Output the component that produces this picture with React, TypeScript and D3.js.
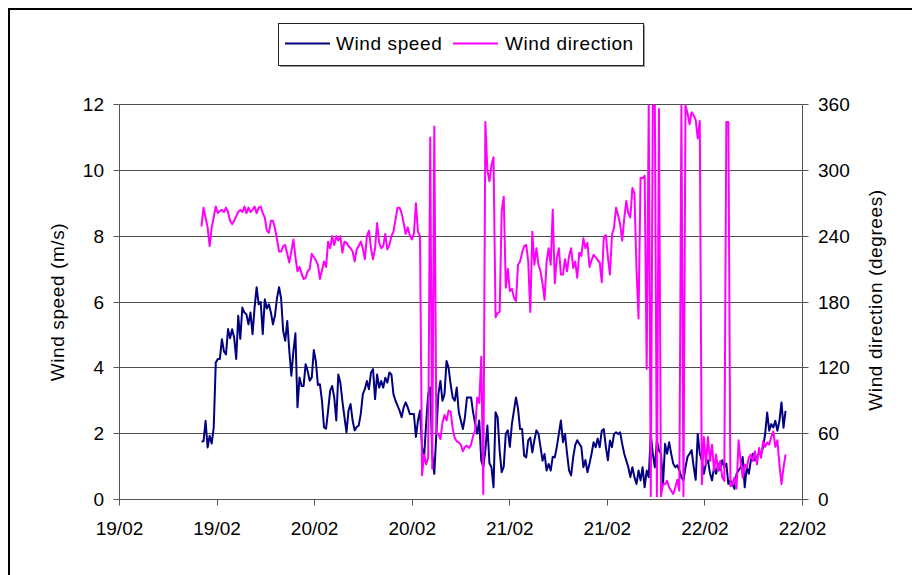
import React from "react";
import * as d3 from "d3";

const WIDTH = 912;
const HEIGHT = 575;

const seriesNames = ["Wind speed", "Wind direction"];
const seriesColors = ["#000080", "#ff00ff"];

const speedTicks = [0, 2, 4, 6, 8, 10, 12];
const directionTicks = [0, 60, 120, 180, 240, 300, 360];

const axisStart = new Date(2009, 1, 19, 0, 0);
const axisEnd = new Date(2009, 1, 22, 12, 0);

// Logger samples (about every 15 minutes)
const firstSample = new Date(2009, 1, 19, 10, 5);
const lastSample = new Date(2009, 1, 22, 9, 55);

// Wind speed, m/s
const windSpeed = [
  1.76, 1.77, 2.39, 1.58, 1.94, 1.7, 2.2, 4.16, 4.27, 4.27,
  4.87, 4.5, 4.41, 5.18, 4.9, 5.17, 4.92, 4.27, 5.58, 4.88,
  5.83, 5.68, 5.63, 5.32, 5.68, 5.02, 5.83, 6.45, 5.93, 6.0,
  5.03, 6.08, 5.8, 5.93, 5.68, 5.32, 5.6, 6.13, 6.45, 6.1,
  5.12, 4.82, 5.42, 4.52, 3.76, 4.5, 5.05, 2.8, 3.71, 3.45,
  3.45, 4.11, 3.9, 3.61, 3.71, 4.54, 4.2, 3.48, 3.5, 3.0,
  2.19, 2.15, 2.7, 3.3, 3.45, 3.1, 2.4, 3.8, 3.55, 2.99,
  2.5, 2.04, 2.7, 2.9, 2.4, 2.1, 2.2, 2.25, 2.6, 3.2,
  3.35, 3.6, 3.35, 3.86, 3.96, 3.05, 3.8, 3.4, 3.6, 3.4,
  3.7, 3.55, 3.86, 3.8, 3.2, 3.0, 2.85, 2.7, 2.5, 2.8,
  2.95, 2.8, 2.6, 2.6, 2.6, 1.9, 2.4, 2.7, 1.59, 1.28,
  2.3, 3.2, 3.4, 1.38, 0.78, 2.0, 3.2, 3.6, 3.0, 3.2,
  4.21, 4.0, 3.5, 3.1, 3.0, 3.4, 2.65, 2.4, 2.14, 2.5,
  3.1, 3.1, 3.1, 2.65, 2.3, 2.0, 2.4, 1.18, 0.98, 1.5,
  2.25, 1.1, 0.98, 0.37, 2.65, 2.5, 1.48, 0.83, 1.0, 2.0,
  2.1, 1.6, 2.3, 2.7, 3.1, 2.76, 2.14, 2.14, 1.33, 1.28,
  1.8, 1.88, 1.43, 1.8, 2.1, 2.0, 1.6, 1.18, 1.38, 0.88,
  1.08, 0.88, 1.3, 1.28, 1.6, 2.0, 2.4, 1.74, 2.0, 1.4,
  0.88, 0.73, 1.28, 1.65, 1.8, 1.69, 1.6, 0.98, 1.2, 0.83,
  1.09, 1.39, 1.74, 1.59, 1.85, 1.59, 2.09, 2.14, 1.6, 1.19,
  1.79, 1.59, 1.99, 2.04, 1.99, 2.04, 1.69, 1.39, 1.19, 0.98,
  0.68, 0.98, 0.68, 0.47, 0.88, 0.58, 0.98, 0.37, 0.88, 0.68,
  1.99, 1.39, 0.98, 1.79, 1.49, 1.39, 0.47, 1.69, 1.39, 1.74,
  1.39, 1.09, 0.98, 1.04, 0.88, 0.68, 0.58, 0.98, 1.3, 1.39,
  1.5, 1.0, 0.6, 1.99, 1.4, 1.19, 0.78, 1.09, 1.19, 0.8,
  0.58, 0.98, 0.78, 1.09, 0.9, 1.19, 0.98, 1.09, 0.47, 0.58,
  0.47, 0.32, 0.78, 0.88, 0.98, 1.29, 0.37, 0.98, 0.78, 1.19,
  1.39, 1.19, 1.29, 1.39, 1.39, 1.59, 1.99, 2.64, 2.09, 2.29,
  2.19, 2.39, 2.09, 2.39, 2.95, 2.18, 2.69,
];

// Wind direction, degrees
const windDirection = [
  249, 266, 257, 248, 231, 248, 257, 267, 261, 263,
  264, 262, 266, 262, 254, 251, 254, 258, 262, 264,
  262, 267, 261, 266, 262, 264, 267, 261, 266, 267,
  261, 257, 245, 243, 254, 254, 247, 237, 226, 226,
  231, 232, 224, 216, 226, 237, 221, 208, 212, 206,
  201, 202, 208, 210, 224, 221, 218, 214, 201, 209,
  217, 212, 235, 229, 240, 232, 240, 236, 240, 225,
  235, 234, 231, 229, 226, 217, 228, 231, 235, 229,
  219, 240, 245, 229, 219, 229, 252, 234, 229, 231,
  242, 228, 232, 240, 244, 255, 266, 266, 261, 252,
  242, 248, 241, 237, 242, 270, 244, 240, 22, 41,
  32, 38, 330, 28, 340, 60, 60, 55, 70, 77,
  72, 81, 80, 65, 56, 53, 52, 50, 44, 48,
  49, 47, 50, 58, 63, 93, 88, 130, 5, 344,
  300, 290, 305, 312, 166, 170, 171, 263, 276, 193,
  210, 190, 192, 184, 181, 214, 217, 225, 231, 232,
  217, 171, 244, 214, 229, 214, 208, 197, 182, 217,
  229, 214, 264, 197, 220, 229, 205, 205, 219, 208,
  222, 229, 211, 217, 202, 225, 222, 238, 229, 234,
  212, 218, 223, 221, 218, 216, 198, 239, 241, 221,
  205, 241, 248, 266, 259, 251, 236, 256, 272, 261,
  257, 284, 279, 211, 165, 293, 293, 295, 119, 359,
  3, 359, 359, 3, 356, 3, 14, 14, 17, 11,
  8, 5, 11, 18, 8, 359, 3, 359, 352, 342,
  353, 350, 346, 329, 345, 14, 57, 32, 57, 35,
  50, 26, 41, 26, 35, 20, 17, 344, 344, 12,
  14, 20, 10, 54, 35, 20, 32, 29, 38, 41,
  35, 44, 32, 47, 38, 53, 48, 52, 50, 57,
  62, 48, 54, 32, 14, 29, 41,
];

const FONT = "'Liberation Sans', Arial, Helvetica, sans-serif";
const AXIS_COLOR = "#555";
const GRID_COLOR = "#4d4d4d";

export default function App() {
  const plotLeft = 119.5;
  const plotRight = 802.5;
  const plotTop = 104.5;
  const plotBottom = 499.5;

  const x = d3.scaleTime().domain([axisStart, axisEnd]).range([plotLeft, plotRight]);
  const ySpeed = d3.scaleLinear().domain([0, 12]).range([plotBottom, plotTop]);
  const yDir = d3.scaleLinear().domain([0, 360]).range([plotBottom, plotTop]);

  const n = windSpeed.length;
  const stepMs = (+lastSample - +firstSample) / (n - 1);
  const times = d3.range(n).map((i) => new Date(+firstSample + i * stepMs));

  const speedPath = d3
    .line<number>()
    .x((_, i) => x(times[i]))
    .y((d) => ySpeed(d))(windSpeed) || "";
  const dirPath = d3
    .line<number>()
    .x((_, i) => x(times[i]))
    .y((d) => yDir(d))(windDirection) || "";

  const xTicks = d3.timeHour.every(12)!.range(axisStart, new Date(+axisEnd + 1));
  const fmt = d3.timeFormat("%d/%m");
  const snap = (v: number) => Math.floor(v) + 0.5;

  // legend geometry
  const lg = { x: 278.5, y: 23.5, w: 365, h: 42 };

  return (
    <div style={{ position: "absolute", left: 0, top: 0 }}>
      <svg width={WIDTH} height={HEIGHT} style={{ display: "block", background: "#fff" }} fontFamily={FONT}>
        <rect x={0} y={0} width={WIDTH} height={HEIGHT} fill="#fff" />
        {/* chart frame */}
        <rect x={9} y={9} width={1000} height={1000} fill="none" stroke="#000" strokeWidth={2} />

        {/* horizontal gridlines */}
        {speedTicks.filter((t) => t > 0).map((t) => (
          <line key={"g" + t} x1={plotLeft} x2={plotRight} y1={snap(ySpeed(t))} y2={snap(ySpeed(t))} stroke={GRID_COLOR} strokeWidth={1} />
        ))}

        {/* left axis */}
        <line x1={plotLeft} x2={plotLeft} y1={plotTop} y2={plotBottom} stroke={AXIS_COLOR} strokeWidth={1} />
        {speedTicks.map((t) => (
          <g key={"l" + t}>
            <line x1={plotLeft - 6} x2={plotLeft} y1={snap(ySpeed(t))} y2={snap(ySpeed(t))} stroke={AXIS_COLOR} />
            <text x={104} y={ySpeed(t) + 6.5} textAnchor="end" fontSize={19} fill="#000">{t}</text>
          </g>
        ))}

        {/* right axis */}
        <line x1={plotRight} x2={plotRight} y1={plotTop} y2={plotBottom} stroke={AXIS_COLOR} strokeWidth={1} />
        {directionTicks.map((t) => (
          <g key={"r" + t}>
            <line x1={plotRight} x2={plotRight + 6} y1={snap(yDir(t))} y2={snap(yDir(t))} stroke={AXIS_COLOR} />
            <text x={818} y={yDir(t) + 6.5} textAnchor="start" fontSize={19} fill="#000">{t}</text>
          </g>
        ))}

        {/* bottom axis */}
        <line x1={plotLeft} x2={plotRight} y1={plotBottom} y2={plotBottom} stroke={AXIS_COLOR} strokeWidth={1} />
        {xTicks.map((t, i) => (
          <g key={"x" + i}>
            <line x1={snap(x(t))} x2={snap(x(t))} y1={plotBottom} y2={plotBottom + 6} stroke={AXIS_COLOR} />
            <text x={x(t)} y={535} textAnchor="middle" fontSize={19} fill="#000">{fmt(t)}</text>
          </g>
        ))}

        {/* axis titles */}
        <text transform="translate(64,302) rotate(-90)" textAnchor="middle" fontSize={19} letterSpacing={0.6} fill="#000">
          Wind speed (m/s)
        </text>
        <text transform="translate(882,300) rotate(-90)" textAnchor="middle" fontSize={19} letterSpacing={0.6} fill="#000">
          Wind direction (degrees)
        </text>

        {/* series */}
        <path d={speedPath} fill="none" stroke={seriesColors[0]} strokeWidth={2} strokeLinejoin="round" />
        <path d={dirPath} fill="none" stroke={seriesColors[1]} strokeWidth={2} strokeLinejoin="round" />

        {/* legend */}
        <rect x={lg.x + 1.5} y={lg.y + 1.5} width={lg.w} height={lg.h} fill="#999" />
        <rect x={lg.x} y={lg.y} width={lg.w} height={lg.h} fill="#fff" stroke="#222" strokeWidth={1} />
        <line x1={285} x2={330} y1={43.5} y2={43.5} stroke={seriesColors[0]} strokeWidth={2} />
        <text x={336} y={50} fontSize={19} letterSpacing={0.6} fill="#000">{seriesNames[0]}</text>
        <line x1={453} x2={498} y1={43.5} y2={43.5} stroke={seriesColors[1]} strokeWidth={2} />
        <text x={505} y={50} fontSize={19} letterSpacing={0.6} fill="#000">{seriesNames[1]}</text>
      </svg>
    </div>
  );
}
